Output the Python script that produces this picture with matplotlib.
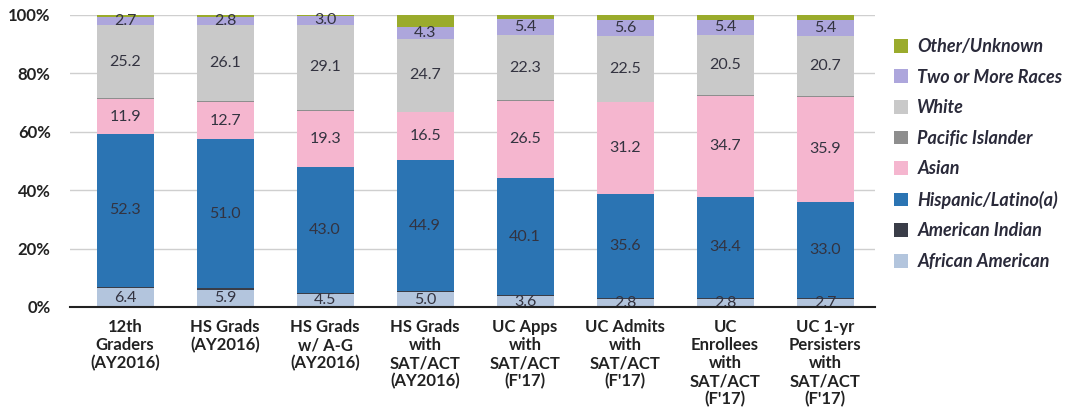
import matplotlib
matplotlib.use("Agg")
import matplotlib.pyplot as plt
import numpy as np

plt.rcParams["font.family"] = ["Lato", "DejaVu Sans"]

categories = [
    "12th\nGraders\n(AY2016)",
    "HS Grads\n(AY2016)",
    "HS Grads\nw/ A-G\n(AY2016)",
    "HS Grads\nwith\nSAT/ACT\n(AY2016)",
    "UC Apps\nwith\nSAT/ACT\n(F'17)",
    "UC Admits\nwith\nSAT/ACT\n(F'17)",
    "UC\nEnrollees\nwith\nSAT/ACT\n(F'17)",
    "UC 1-yr\nPersisters\nwith\nSAT/ACT\n(F'17)",
]

african_american = [6.4, 5.9, 4.5, 5.0, 3.6, 2.8, 2.8, 2.7]
american_indian = [0.5, 0.5, 0.4, 0.3, 0.4, 0.4, 0.4, 0.3]
hispanic = [52.3, 51.0, 43.0, 44.9, 40.1, 35.6, 34.4, 33.0]
asian = [11.9, 12.7, 19.3, 16.5, 26.5, 31.2, 34.7, 35.9]
pacific_islander = [0.3, 0.3, 0.3, 0.2, 0.2, 0.2, 0.2, 0.2]
white = [25.2, 26.1, 29.1, 24.7, 22.3, 22.5, 20.5, 20.7]
two_or_more = [2.7, 2.8, 3.0, 4.3, 5.4, 5.6, 5.4, 5.4]
other_unknown = [0.7, 0.7, 0.4, 4.1, 1.5, 1.7, 1.6, 1.8]

series = [
    ("African American", african_american, "#b3c5dd", True),
    ("American Indian", american_indian, "#3a3d48", False),
    ("Hispanic/Latino(a)", hispanic, "#2b74b3", True),
    ("Asian", asian, "#f5b6cf", True),
    ("Pacific Islander", pacific_islander, "#8e8e8e", False),
    ("White", white, "#c9c9c9", True),
    ("Two or More Races", two_or_more, "#ada6dc", True),
    ("Other/Unknown", other_unknown, "#9aab2c", False),
]

fig = plt.figure(figsize=(10.79, 4.12), dpi=100)
ax = fig.add_axes([0.065, 0.255, 0.746, 0.709])

x = np.arange(len(categories))
bottom = np.zeros(len(categories))
handles = []
for name, vals, color, show in series:
    vals = np.array(vals)
    b = ax.bar(x, vals, 0.57, bottom=bottom, color=color, label=name, zorder=3)
    handles.append(b)
    if show:
        for xi, v, bt in zip(x, vals, bottom):
            ax.text(xi, bt + v / 2, f"{v:.1f}", ha="center", va="center",
                    fontsize=11.5, color="#333340", zorder=4)
    bottom += vals

ax.set_xlim(-0.55, 7.5)
ax.set_ylim(0, 100)
ax.set_yticks(range(0, 101, 20))
ax.set_yticklabels([f"{t}%" for t in range(0, 101, 20)], fontsize=12, fontweight="bold",
                   color="#222222")
ax.set_xticks(x)
ax.set_xticklabels(categories, fontsize=12, fontweight="bold", color="#222222",
                   linespacing=1.15)
ax.tick_params(axis="y", length=0, pad=14)
ax.tick_params(axis="x", length=0, pad=9)
ax.grid(axis="y", color="#cfcfcf", lw=1, zorder=0)
for s in ["top", "right", "left"]:
    ax.spines[s].set_visible(False)
ax.spines["bottom"].set_color("#222222")
ax.spines["bottom"].set_linewidth(1.5)
ax.spines["bottom"].set_zorder(5)

leg = fig.legend(handles[::-1], [s[0] for s in series][::-1], loc="upper left",
                 bbox_to_anchor=(0.8134, 0.947), frameon=False,
                 handlelength=0.8, handleheight=0.8, handletextpad=0.5,
                 labelspacing=0.75, prop={"style": "italic", "weight": "bold", "size": 13})
for t in leg.get_texts():
    t.set_color("#2a2a3a")

fig.savefig("out.png", dpi=100)
